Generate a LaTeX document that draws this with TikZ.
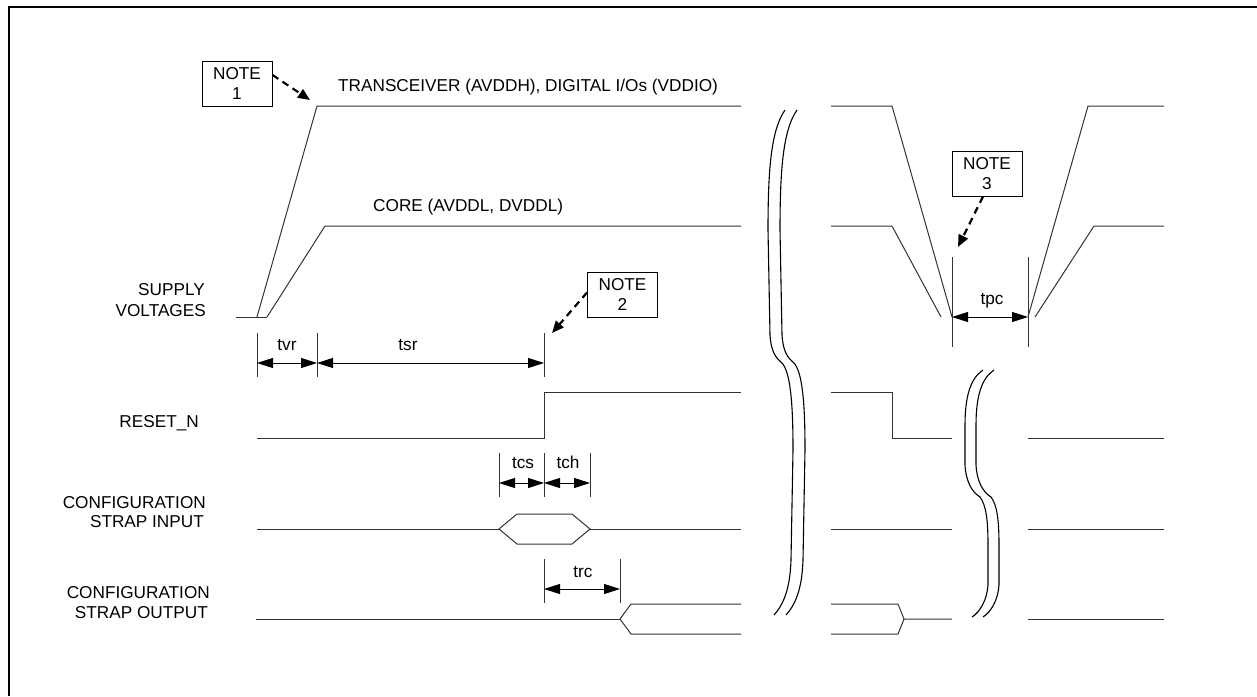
\documentclass[tikz,border=0pt]{standalone}
\usepackage{fontspec}
\setmainfont{Liberation Sans}
\usetikzlibrary{arrows.meta}
\newcommand\diaglbl{\fontsize{17.2}{20.5}\selectfont}
\begin{document}
\begin{tikzpicture}[x=1pt,y=-1pt,
  sig/.style={line width=1pt, draw=black!80},
  dimline/.style={line width=0.9pt, {Triangle[length=16pt,width=10pt]}-{Triangle[length=16pt,width=10pt]}},
  tickline/.style={line width=0.9pt, draw=black!80},
  notebox/.style={draw, line width=1pt, minimum width=70pt, minimum height=45pt, align=center, inner sep=0pt, font=\diaglbl},
  noteptr/.style={line width=2.2pt, dash pattern=on 7pt off 5pt, -{Triangle[length=12pt,width=10pt]}},
  lbl/.style={font=\diaglbl, inner sep=0pt},
  bracestyle/.style={line width=1.1pt},
  frame/.style={line width=2pt}
]
\useasboundingbox (0,0) rectangle (1257,696);

% frame (top and left edges)
\coordinate (fTL) at (8.5,6.5);
\coordinate (fTR) at (1257,6.5);
\coordinate (fBL) at (8.5,696);
\draw[frame] (fTR) -- (fTL) -- (fBL);

% ---------------- supply voltages ----------------
\draw[sig] (236,317) -- (267,317);
\draw[sig] (257,317) -- (317,106) -- (741,106);
\draw[sig] (267,317) -- (325,226) -- (741,226);
% right side: falling and rising
\draw[sig] (831,106) -- (892,106) -- (952,317);
\draw[sig] (831,226) -- (892,226) -- (941,317);
\draw[sig] (1028,317) -- (1088,106) -- (1164,106);
\draw[sig] (1035,317) -- (1094,226) -- (1164,226);

% ---------------- RESET_N ----------------
\draw[sig] (257,438) -- (544,438) -- (544,392) -- (741,392);
\draw[sig] (831,392) -- (892,392) -- (892,438) -- (952,438);
\draw[sig] (1028,438) -- (1164,438);

% ---------------- configuration strap input ----------------
\draw[sig] (257,529) -- (499,529);
\draw[sig] (499,529) -- (517,514) -- (572,514) -- (590,529) -- (572,544) -- (517,544) -- cycle;
\draw[sig] (590,529) -- (741,529);
\draw[sig] (831,529) -- (952,529);
\draw[sig] (1028,529) -- (1164,529);

% ---------------- configuration strap output ----------------
\draw[sig] (256,619) -- (620,619);
\draw[sig] (620,619) -- (631,604) -- (741,604);
\draw[sig] (620,619) -- (631,634) -- (741,634);
\draw[sig] (831,604) -- (898,604) -- (904,619) -- (952,619);
\draw[sig] (831,634) -- (898,634) -- (904,619);
\draw[sig] (1028,619) -- (1164,619);

% ---------------- break marks ----------------
\foreach \dx in {0,12}{
  \draw[bracestyle, xshift=\dx pt] (785,110) .. controls (771,130) and (768,170) .. (768,230)
     -- (770,335) .. controls (771,352) and (776,358) .. (782,363)
     .. controls (790,372) and (793,400) .. (793,450)
     -- (791,560) .. controls (790,590) and (783,605) .. (774,615);
}
\foreach \dx in {0,11}{
  \draw[bracestyle, xshift=\dx pt] (983,370) .. controls (971,378) and (965,395) .. (965,425)
     -- (965,465) .. controls (966,482) and (972,492) .. (980,497)
     .. controls (986,505) and (988,520) .. (988,545)
     -- (988,585) .. controls (987,600) and (980,612) .. (972,617);
}

% ---------------- timing dimensions ----------------
% tvr / tsr
\draw[tickline] (257,333) -- (257,377);
\draw[tickline] (317,333) -- (317,377);
\draw[tickline] (544,333) -- (544,377);
\coordinate (tvrA) at (257,363);
\coordinate (tvrB) at (317,363);
\coordinate (tsrB) at (544,363);
\draw[dimline] (tvrA) -- (tvrB);
\draw[dimline] (tvrB) -- (tsrB);
\node[lbl, anchor=base] (tvr) at (287,350) {tvr};
\node[lbl, anchor=base] (tsr) at (408,350) {tsr};

% tcs / tch
\draw[tickline] (499,453) -- (499,497);
\draw[tickline] (544,453) -- (544,497);
\draw[tickline] (590,453) -- (590,497);
\coordinate (tcsA) at (499,483);
\coordinate (tcsB) at (544,483);
\coordinate (tchB) at (590,483);
\draw[dimline] (tcsA) -- (tcsB);
\draw[dimline] (tcsB) -- (tchB);
\node[lbl, anchor=base] (tcs) at (523,468) {tcs};
\node[lbl, anchor=base] (tch) at (568,468) {tch};

% trc
\draw[tickline] (544,559) -- (544,603);
\draw[tickline] (620,559) -- (620,603);
\coordinate (trcA) at (544,589);
\coordinate (trcB) at (620,589);
\draw[dimline] (trcA) -- (trcB);
\node[lbl, anchor=base] (trc) at (583,577) {trc};

% tpc
\draw[tickline] (952,257) -- (952,347);
\draw[tickline] (1028,257) -- (1028,347);
\coordinate (tpcA) at (952,317);
\coordinate (tpcB) at (1028,317);
\draw[dimline] (tpcA) -- (tpcB);
\node[lbl, anchor=base] (tpc) at (992,304) {tpc};

% ---------------- notes ----------------
\node[notebox] (n1) at (237,83.5) {NOTE\\1};
\node[notebox] (n2) at (622.5,294.5) {NOTE\\2};
\node[notebox] (n3) at (987,173.5) {NOTE\\3};
\coordinate (n1tip) at (310,100);
\coordinate (n2tip) at (552,333);
\coordinate (n3tip) at (958,247);
\draw[noteptr] ([yshift=8.5pt]n1.east) -- (n1tip);
\draw[noteptr] ([yshift=2pt]n2.west) -- (n2tip);
\draw[noteptr] ([xshift=-4pt]n3.south) -- (n3tip);

% ---------------- signal labels ----------------
\node[lbl, anchor=base west] (tlab) at (338,91) {TRANSCEIVER (AVDDH), DIGITAL I/Os (VDDIO)};
\node[lbl, anchor=base west] (clab) at (373,211) {CORE (AVDDL, DVDDL)};
\node[lbl, anchor=base east] (sv1) at (205,295) {SUPPLY};
\node[lbl, anchor=base east] (sv2) at (206,316) {VOLTAGES};
\node[lbl, anchor=base east] (rst) at (199,427) {RESET\_N};
\node[lbl, anchor=base east] (ci1) at (206,508) {CONFIGURATION};
\node[lbl, anchor=base east] (ci2) at (204,527) {STRAP INPUT};
\node[lbl, anchor=base east] (co1) at (210,598) {CONFIGURATION};
\node[lbl, anchor=base east] (co2) at (208,618) {STRAP OUTPUT};
\end{tikzpicture}
\end{document}
